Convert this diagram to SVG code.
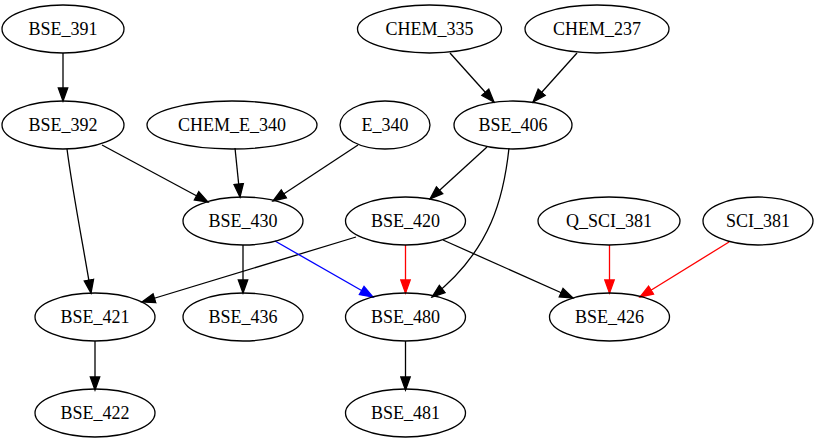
<svg xmlns="http://www.w3.org/2000/svg" width="822" height="443" viewBox="0 0 822 443">
<style>
.n ellipse{fill:none;stroke:#000;stroke-width:1.3}
.n text{font-family:'Liberation Serif','Times New Roman','DejaVu Serif',serif;font-size:18px;text-anchor:middle;fill:#000}
.e path{fill:none;stroke-width:1.3}
.k{stroke:#000;marker-end:url(#ak)}
.r{stroke:#f00;marker-end:url(#ar)}
.b{stroke:#00f;marker-end:url(#ab)}
</style>
<defs>
<marker id="ak" markerUnits="userSpaceOnUse" markerWidth="16" markerHeight="12" refX="14" refY="6" orient="auto"><path d="M1,1.3 L14,6 L1,10.7 z" fill="#000" stroke="#000" stroke-width="1.3"/></marker>
<marker id="ar" markerUnits="userSpaceOnUse" markerWidth="16" markerHeight="12" refX="14" refY="6" orient="auto"><path d="M1,1.3 L14,6 L1,10.7 z" fill="#f00" stroke="#f00" stroke-width="1.3"/></marker>
<marker id="ab" markerUnits="userSpaceOnUse" markerWidth="16" markerHeight="12" refX="14" refY="6" orient="auto"><path d="M1,1.3 L14,6 L1,10.7 z" fill="#00f" stroke="#00f" stroke-width="1.3"/></marker>
</defs>
<rect width="822" height="443" fill="#fff"/>
<g id="edges" class="e">
<path class="k" d="M63,53 L63,101"/>
<path class="k" d="M102,145 L208,202"/>
<path class="k" d="M67,149 C73,195 84,250 91,293"/>
<path class="k" d="M235,148 L240,197"/>
<path class="k" d="M358,145 L273,201"/>
<path class="k" d="M450,53 L494,102"/>
<path class="k" d="M577,53 L533,102"/>
<path class="k" d="M487,147 L430,199"/>
<path class="k" d="M509,148 C504,195 492,250 432,297"/>
<path class="k" d="M356,237 L142,302"/>
<path class="r" d="M405.5,245 L405.5,293"/>
<path class="k" d="M443,240 L573,298"/>
<path class="k" d="M243,245 L243,293"/>
<path class="b" d="M275,241 L373,297"/>
<path class="r" d="M609.5,245 L609.5,293"/>
<path class="r" d="M729,242 L640,297"/>
<path class="k" d="M95,341 L95,390"/>
<path class="k" d="M405.5,341 L405.5,390"/>
</g>
<g id="BSE_391" class="n"><ellipse cx="63" cy="29" rx="61" ry="24"/><text x="63" y="35" font-family="Liberation Serif">BSE_391</text></g>
<g id="BSE_392" class="n"><ellipse cx="63" cy="125" rx="61" ry="24"/><text x="63" y="131" font-family="Liberation Serif">BSE_392</text></g>
<g id="CHEM_E_340" class="n"><ellipse cx="232" cy="125" rx="85" ry="24"/><text x="232" y="131" font-family="Liberation Serif">CHEM_E_340</text></g>
<g id="E_340" class="n"><ellipse cx="385" cy="125" rx="45" ry="24"/><text x="385" y="131" font-family="Liberation Serif">E_340</text></g>
<g id="CHEM_335" class="n"><ellipse cx="429.5" cy="29" rx="72" ry="24"/><text x="429.5" y="35" font-family="Liberation Serif">CHEM_335</text></g>
<g id="CHEM_237" class="n"><ellipse cx="597" cy="29" rx="72" ry="24"/><text x="597" y="35" font-family="Liberation Serif">CHEM_237</text></g>
<g id="BSE_406" class="n"><ellipse cx="513" cy="125" rx="59" ry="24"/><text x="513" y="131" font-family="Liberation Serif">BSE_406</text></g>
<g id="BSE_430" class="n"><ellipse cx="243" cy="221" rx="60" ry="24"/><text x="243" y="227" font-family="Liberation Serif">BSE_430</text></g>
<g id="BSE_420" class="n"><ellipse cx="405.5" cy="221" rx="60" ry="24"/><text x="405.5" y="227" font-family="Liberation Serif">BSE_420</text></g>
<g id="Q_SCI_381" class="n"><ellipse cx="609" cy="221" rx="71" ry="24"/><text x="609" y="227" font-family="Liberation Serif">Q_SCI_381</text></g>
<g id="SCI_381" class="n"><ellipse cx="758" cy="221" rx="55" ry="24"/><text x="758" y="227" font-family="Liberation Serif">SCI_381</text></g>
<g id="BSE_421" class="n"><ellipse cx="95" cy="317" rx="60" ry="24"/><text x="95" y="323" font-family="Liberation Serif">BSE_421</text></g>
<g id="BSE_436" class="n"><ellipse cx="243" cy="317" rx="60" ry="24"/><text x="243" y="323" font-family="Liberation Serif">BSE_436</text></g>
<g id="BSE_480" class="n"><ellipse cx="405.5" cy="317" rx="60" ry="24"/><text x="405.5" y="323" font-family="Liberation Serif">BSE_480</text></g>
<g id="BSE_426" class="n"><ellipse cx="609.5" cy="317" rx="60" ry="24"/><text x="609.5" y="323" font-family="Liberation Serif">BSE_426</text></g>
<g id="BSE_422" class="n"><ellipse cx="95" cy="413" rx="60" ry="24"/><text x="95" y="419" font-family="Liberation Serif">BSE_422</text></g>
<g id="BSE_481" class="n"><ellipse cx="405.5" cy="413" rx="60" ry="24"/><text x="405.5" y="419" font-family="Liberation Serif">BSE_481</text></g>
</svg>
